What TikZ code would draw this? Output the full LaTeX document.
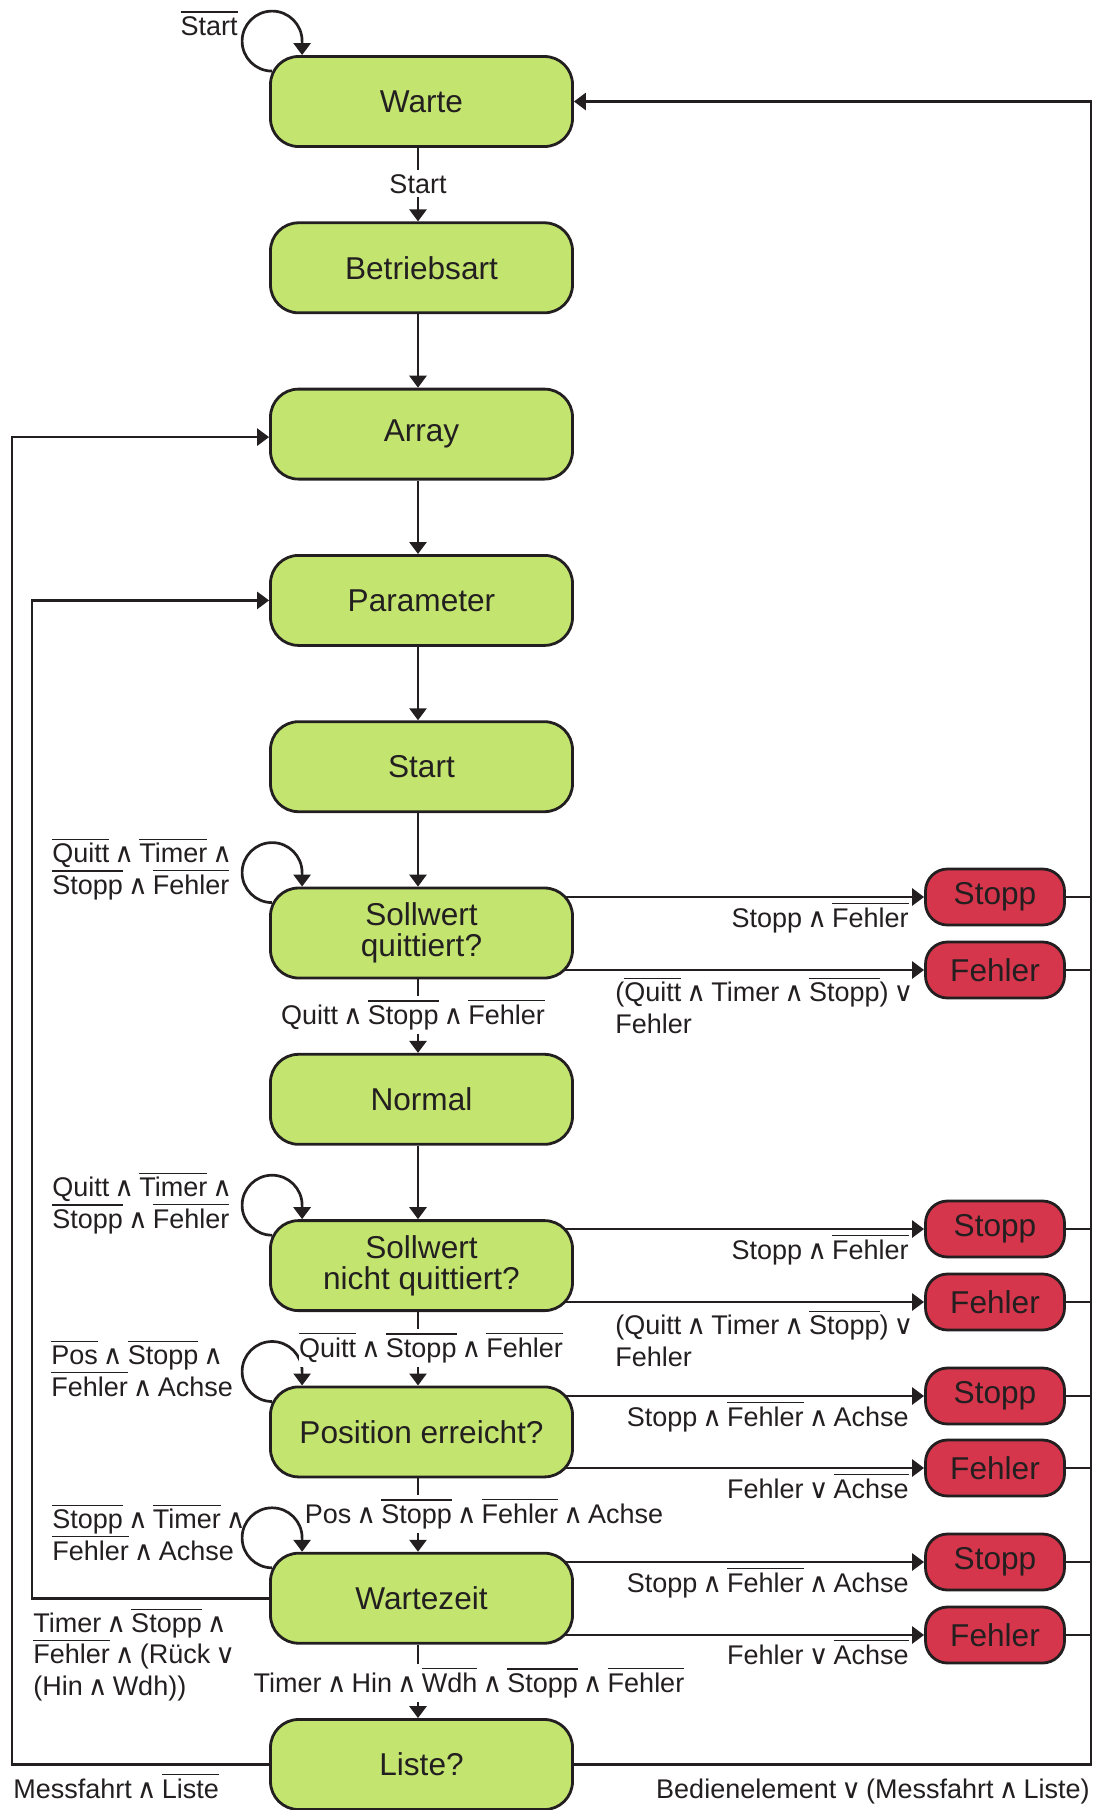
\documentclass[tikz,border=0pt]{standalone}
\usepackage{fontspec}
\usepackage{graphicx}
\setmainfont{Liberation Sans}
\newfontfamily\opfont{DejaVu Sans}
\usetikzlibrary{arrows.meta,backgrounds}

\definecolor{ink}{HTML}{231F20}
\definecolor{stategreen}{HTML}{C3E56F}
\definecolor{alarmred}{HTML}{D6364B}

% negated signal: word with a bar above it
\newcommand\ov[1]{\vbox{\hrule height 0.6pt\kern1.5pt\hbox{\vrule width 0pt height 0.72em\relax#1}}}
% logical operators
\newcommand\AND{\makebox[0.55em]{\opfont\scalebox{1.0}{∧}}}
\newcommand\OR{\makebox[0.55em]{\opfont\scalebox{1.0}{∨}}}
% self transition drawn at the upper left corner of a state
\newcommand\selfloop[1]{%
  \draw[arr] ([xshift=1.5pt,yshift=-8pt]#1.north west)
    arc[start angle=90,end angle=360,radius=30] -- ([xshift=16.5pt]#1.north west);}

\begin{document}
\begin{tikzpicture}[x=0.5pt,y=-0.5pt,
  state/.style={draw=ink,line width=1.4pt,fill=stategreen,rounded corners=14pt,
    minimum width=151pt,minimum height=45pt,inner sep=0pt,align=center,text=ink,
    font=\fontsize{15.8}{15.5}\selectfont},
  alarm/.style={draw=ink,line width=1.4pt,fill=alarmred,rounded corners=11pt,
    minimum width=69.5pt,minimum height=28pt,inner sep=0pt,text=ink,
    font=\fontsize{15.8}{16}\selectfont},
  conn/.style={draw=ink,line width=1.35pt},
  arr/.style={conn,-{Triangle[length=6pt,width=8.5pt]}},
  lbl/.style={inner sep=0pt,text=ink,font=\fontsize{13.5}{15.6}\selectfont},
  cut/.style={lbl,fill=white,inner ysep=2pt,inner xsep=0pt}]

\useasboundingbox (0,0) rectangle (1098,1810);

% states
\node[state] (warte)   at (421.5,101.5)  {Warte};
\node[state] (betrieb) at (421.5,267.8)  {Betriebsart};
\node[state] (array)   at (421.5,434.1)  {Array};
\node[state] (param)   at (421.5,600.4)  {Parameter};
\node[state] (start)   at (421.5,766.7)  {Start};
\node[state] (sq)      at (421.5,933.0)  {Sollwert\\quittiert?};
\node[state] (normal)  at (421.5,1099.3) {Normal};
\node[state] (snq)     at (421.5,1265.6) {Sollwert\\nicht quittiert?};
\node[state] (pos)     at (421.5,1431.9) {Position erreicht?};
\node[state] (wz)      at (421.5,1598.2) {Wartezeit};
\node[state] (liste)   at (421.5,1764.5) {Liste?};

% error and stop states
\node[alarm] (stopA)  at (995,897)  {Stopp};
\node[alarm] (fehlA)  at (995,970)  {Fehler};
\node[alarm] (stopB)  at (995,1229) {Stopp};
\node[alarm] (fehlB)  at (995,1302) {Fehler};
\node[alarm] (stopC)  at (995,1396) {Stopp};
\node[alarm] (fehlC)  at (995,1468) {Fehler};
\node[alarm] (stopD)  at (995,1562) {Stopp};
\node[alarm] (fehlD)  at (995,1635) {Fehler};

\coordinate (rr) at (1091,0);
\coordinate (ll) at (12,0);
\coordinate (li) at (32,0);

\begin{scope}[on background layer]
  % main sequence
  \foreach \a/\b in {warte/betrieb,betrieb/array,array/param,param/start,start/sq,
                     sq/normal,normal/snq,snq/pos,pos/wz,wz/liste}
    \draw[arr] ([xshift=-1.75pt]\a.south) -- ([xshift=-1.75pt]\b.north);

  % self transitions
  \selfloop{warte}
  \selfloop{sq}
  \selfloop{snq}
  \selfloop{pos}
  \selfloop{wz}

  % transitions to stop / error
  \foreach \s/\t in {sq/stopA,sq/fehlA,snq/stopB,snq/fehlB,pos/stopC,pos/fehlC,wz/stopD,wz/fehlD}{
    \draw[arr] (\s.center |- \t.west) -- (\t.west);
    \draw[conn] (\t.east) -- (\t.east -| rr);
  }

  % return paths
  \draw[arr] (liste.east) -- (liste.east -| rr) -- (warte.east -| rr) -- (warte.east);
  \draw[arr] (liste.west) -- (liste.west -| ll) -- ([yshift=-1.5pt]array.west -| ll)
    -- ([yshift=-1.5pt]array.west);
  \draw[arr] (wz.west) -- (wz.west -| li) -- (param.west -| li) -- (param.west);
\end{scope}

% conditions
\node[lbl,anchor=base east] (cWarte) at (238,35) {\ov{Start}};
\node[cut,anchor=base] (cStart) at (418,193) {Start};

\node[lbl,anchor=base west,align=left] (cSq) at (52,894)
  {\ov{Quitt} \AND{} \ov{Timer} \AND\\\ov{Stopp} \AND{} \ov{Fehler}};
\node[cut,anchor=base] (cNormal) at (413,1024) {Quitt \AND{} \ov{Stopp} \AND{} \ov{Fehler}};
\node[lbl,anchor=base east] (cStopA) at (909,927) {Stopp \AND{} \ov{Fehler}};
\node[lbl,anchor=base west,align=left] (cFehlA) at (615,1033)
  {(\ov{Quitt} \AND{} Timer \AND{} \ov{Stopp}) \OR\\Fehler};

\node[lbl,anchor=base west,align=left] (cSnq) at (52,1228)
  {Quitt \AND{} \ov{Timer} \AND\\\ov{Stopp} \AND{} \ov{Fehler}};
\node[cut,anchor=base] (cPos) at (431,1357) {\ov{Quitt} \AND{} \ov{Stopp} \AND{} \ov{Fehler}};
\node[lbl,anchor=base east] (cStopB) at (909,1259) {Stopp \AND{} \ov{Fehler}};
\node[lbl,anchor=base west,align=left] (cFehlB) at (615,1366)
  {(Quitt \AND{} Timer \AND{} \ov{Stopp}) \OR\\Fehler};

\node[lbl,anchor=base west,align=left] (cPosLoop) at (51,1396)
  {\ov{Pos} \AND{} \ov{Stopp} \AND\\\ov{Fehler} \AND{} Achse};
\node[lbl,anchor=base east] (cStopC) at (909,1426) {Stopp \AND{} \ov{Fehler} \AND{} Achse};
\node[lbl,anchor=base east] (cFehlC) at (909,1498) {Fehler \OR{} \ov{Achse}};
\node[cut,anchor=base] (cWz) at (484,1523) {Pos \AND{} \ov{Stopp} \AND{} \ov{Fehler} \AND{} Achse};

\node[lbl,anchor=base west,align=left] (cWzLoop) at (52,1560)
  {\ov{Stopp} \AND{} \ov{Timer} \AND\\\ov{Fehler} \AND{} Achse};
\node[lbl,anchor=base east] (cStopD) at (909,1592) {Stopp \AND{} \ov{Fehler} \AND{} Achse};
\node[lbl,anchor=base east] (cFehlD) at (909,1664) {Fehler \OR{} \ov{Achse}};
\node[cut,anchor=base] (cListe) at (469,1692)
  {Timer \AND{} Hin \AND{} \ov{Wdh} \AND{} \ov{Stopp} \AND{} \ov{Fehler}};
\node[lbl,anchor=base west,align=left] (cParam) at (33,1695)
  {Timer \AND{} \ov{Stopp} \AND\\\ov{Fehler} \AND{} (Rück \OR\\(Hin \AND{} Wdh))};

\node[lbl,anchor=base west] (cArray) at (13,1798) {Messfahrt \AND{} \ov{Liste}};
\node[lbl,anchor=base east] (cWarteR) at (1090,1798) {Bedienelement \OR{} (Messfahrt \AND{} Liste)};

\end{tikzpicture}
\end{document}
